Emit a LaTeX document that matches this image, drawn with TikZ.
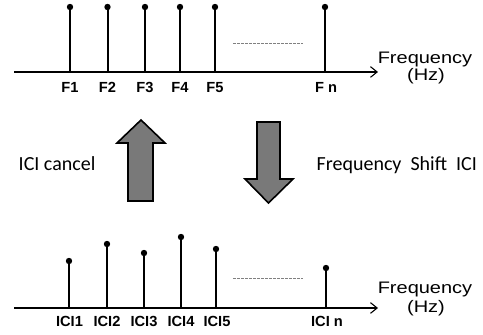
\documentclass[tikz,border=0pt]{standalone}
\usepackage{fontspec}
\setmainfont{Liberation Sans}
\newfontfamily\calibrifont{Carlito}
\newfontfamily\widefont[FakeStretch=1.2]{Liberation Sans}
\usetikzlibrary{arrows.meta}
\tikzset{
  axisline/.style={line width=0.8pt, -{Straight Barb[length=5pt,width=8pt]}},
  stemline/.style={line width=1.5pt},
  tipdot/.style={circle, fill=black, inner sep=0pt, minimum size=4.8pt},
  flabel/.style={font=\fontsize{11}{13}\selectfont\bfseries, anchor=base},
  axislabel/.style={font=\widefont\fontsize{12.5}{15}\selectfont, anchor=base},
  sidelabel/.style={font=\calibrifont\fontsize{15}{18}\selectfont, anchor=base west},
  dotsline/.style={gray, line width=0.6pt, dash pattern=on 2pt off 1pt},
  bigarrow/.style={fill=gray!95!black, draw=black, line width=1.2pt}
}
\begin{document}
\begin{tikzpicture}[x=0.75pt, y=-0.75pt]
    \useasboundingbox (0,0) rectangle (483,335);
    % upper spectrum
    \coordinate (ua) at (14,72);
    \coordinate (ub) at (378,72);
    \draw[axisline] (ua) -- (ub);
    \node[tipdot] (ut1) at (70,7) {};
    \node[tipdot] (ut2) at (107.5,7) {};
    \node[tipdot] (ut3) at (145,7) {};
    \node[tipdot] (ut4) at (180,7) {};
    \node[tipdot] (ut5) at (215,7) {};
    \node[tipdot] (utn) at (325,7) {};
    \coordinate (us1) at (70,72);
    \coordinate (us2) at (107.5,72);
    \coordinate (us3) at (145,72);
    \coordinate (us4) at (180,72);
    \coordinate (us5) at (215,72);
    \coordinate (usn) at (325,72);
    \draw[stemline] (us1) -- (ut1.center);
    \draw[stemline] (us2) -- (ut2.center);
    \draw[stemline] (us3) -- (ut3.center);
    \draw[stemline] (us4) -- (ut4.center);
    \draw[stemline] (us5) -- (ut5.center);
    \draw[stemline] (usn) -- (utn.center);
    \node[flabel] (uf1) at (70,93) {F1};
    \node[flabel] (uf2) at (107.5,93) {F2};
    \node[flabel] (uf3) at (145,93) {F3};
    \node[flabel] (uf4) at (180,93) {F4};
    \node[flabel] (uf5) at (215,93) {F5};
    \node[flabel] (ufn) at (326,93) {F n};
    \coordinate (ud0) at (233,43);
    \coordinate (ud1) at (303,43);
    \draw[dotsline] (ud0) -- (ud1);
    \node[axislabel] (ufreq) at (425,64) {Frequency};
    \node[axislabel] (uhz) at (426,81) {(Hz)};
    % middle arrows
    \draw[bigarrow] (128,201) -- (128,143) -- (117,143) -- (141,120) -- (165,143)
        -- (153,143) -- (153,201) -- cycle;
    \draw[bigarrow] (257,122) -- (280,122) -- (280,179) -- (293,179) -- (268.5,203)
        -- (245,179) -- (257,179) -- cycle;
    \node[sidelabel] (cancel) at (14,171) {ICI cancel};
    \node[sidelabel] (shift) at (312,171) {Frequency\hspace{0.45em}Shift\hspace{0.45em}ICI};
    % lower spectrum
    \coordinate (la) at (14,308);
    \coordinate (lb) at (378,308);
    \draw[axisline] (la) -- (lb);
    \node[tipdot] (lt1) at (69,261) {};
    \node[tipdot] (lt2) at (107,244) {};
    \node[tipdot] (lt3) at (144,253) {};
    \node[tipdot] (lt4) at (181,237) {};
    \node[tipdot] (lt5) at (216,249) {};
    \node[tipdot] (ltn) at (326,268) {};
    \coordinate (ls1) at (69,308);
    \coordinate (ls2) at (107,308);
    \coordinate (ls3) at (144,308);
    \coordinate (ls4) at (181,308);
    \coordinate (ls5) at (216,308);
    \coordinate (lsn) at (326,308);
    \draw[stemline] (ls1) -- (lt1.center);
    \draw[stemline] (ls2) -- (lt2.center);
    \draw[stemline] (ls3) -- (lt3.center);
    \draw[stemline] (ls4) -- (lt4.center);
    \draw[stemline] (ls5) -- (lt5.center);
    \draw[stemline] (lsn) -- (ltn.center);
    \node[flabel] (lf1) at (69.5,327) {ICI1};
    \node[flabel] (lf2) at (107,327) {ICI2};
    \node[flabel] (lf3) at (144,327) {ICI3};
    \node[flabel] (lf4) at (181,327) {ICI4};
    \node[flabel] (lf5) at (217,327) {ICI5};
    \node[flabel] (lfn) at (327,327) {ICI n};
    \coordinate (ld0) at (233,278);
    \coordinate (ld1) at (303,278);
    \draw[dotsline] (ld0) -- (ld1);
    \node[axislabel] (lfreq) at (425,294) {Frequency};
    \node[axislabel] (lhz) at (426,312) {(Hz)};
\end{tikzpicture}
\end{document}
